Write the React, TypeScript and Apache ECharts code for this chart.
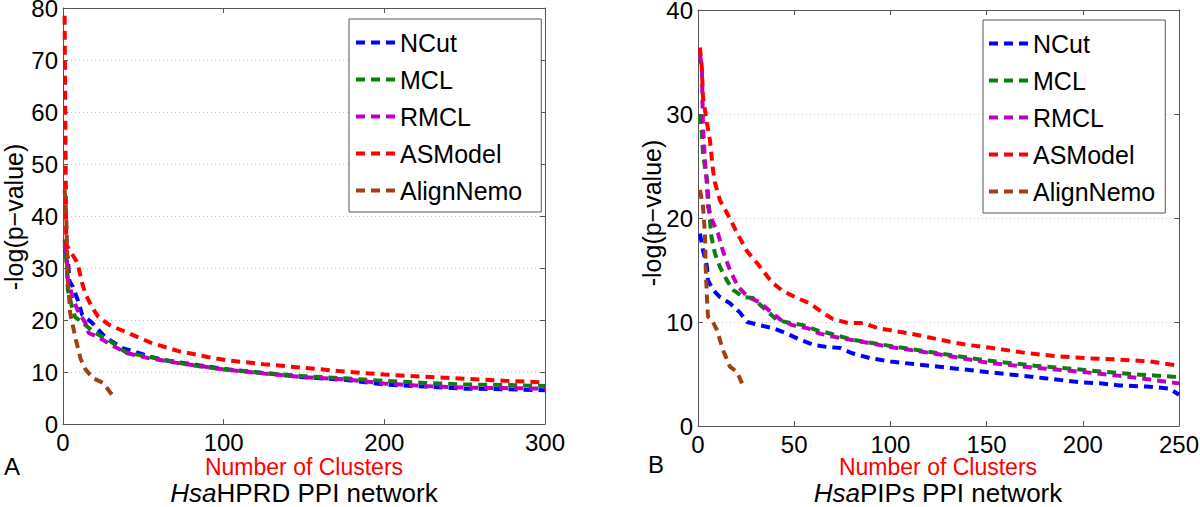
import React, { useEffect, useRef } from "react";
import * as echarts from "echarts";

// Left panel (HsaHPRD) data: [number of clusters, -log(p-value)]
const hprdNCut = [[1,33.5],[3,32],[4,27.5],[6,26.5],[9,24],[12,21],[18,19.5],[26,16.8],[37,14.6],[55,12.9],[63,12.3],[80,11.5],[100,10.6],[125,9.8],[150,9.0],[175,8.5],[200,7.6],[225,7.2],[250,6.8],[275,6.7],[300,6.5]];
const hprdMCL = [[1,35.5],[2.5,29.6],[3,25.8],[5.6,22.5],[7.5,20.6],[14,19],[20,17.5],[28,16.2],[39,13.8],[47,13.3],[60,12.5],[80,11.3],[100,10.5],[125,9.8],[150,9.2],[175,8.8],[200,8.3],[225,7.9],[250,7.6],[275,7.5],[300,7.3]];
const hprdRMCL = [[1,34.4],[2.5,31.5],[3,27.7],[6,24.4],[9,21.9],[14,19.4],[16,17.5],[22,16.7],[30,15.2],[40,13.6],[53,12.7],[70,11.8],[100,10.5],[125,9.7],[150,9.0],[175,8.6],[200,7.8],[225,7.3],[250,7.0],[275,6.9],[300,6.8]];
const hprdASModel = [[1,78.5],[2,34.5],[4,33.5],[6,32.5],[9,31],[12,27],[14,25],[18,22.5],[22,20.6],[29,19],[39,17.7],[55,15.6],[72,14],[90,12.9],[101,12.3],[125,11.5],[150,10.8],[175,10.1],[200,9.5],[225,9.1],[250,8.7],[275,8.3],[300,8.0]];
const hprdAlignNemo = [[1,45],[2,40.5],[2.5,34],[3,27.7],[4.5,21.3],[8,16.2],[11,12.5],[14,10.5],[18.7,8.8],[25,7.9],[32,5]];

// Right panel (HsaPIPs) data
const pipsNCut = [[1,18.5],[2.6,16.9],[4.7,15.3],[5.2,14],[7.8,13.1],[11.4,12.4],[16.6,11.8],[21.8,10.9],[25.5,10],[32,9.7],[39,9.4],[46,8.9],[53,8.3],[60,7.8],[67,7.6],[74,7.5],[80,7.0],[90,6.5],[100,6.2],[120,5.8],[140,5.4],[160,5.0],[180,4.6],[198.5,4.2],[209,4.1],[219,3.9],[233,3.8],[245,3.6],[250,3.0]];
const pipsMCL = [[1,29.9],[2,28.2],[2.6,26.2],[3.6,24.9],[4.7,23.7],[5.2,22.4],[6.2,19.8],[7,18.2],[8.8,16.6],[11.4,15.3],[15,14],[18.2,13.1],[23.4,12.4],[28.6,12.3],[33.8,11.4],[41,10.2],[48,9.9],[54.6,9.7],[62,9.2],[68.6,8.9],[80,8.3],[100,7.7],[125,7.0],[150,6.3],[175,5.8],[200,5.4],[225,5.0],[250,4.7]];
const pipsRMCL = [[1,35.7],[2,34.5],[2.3,31.6],[2.6,28.8],[3.6,25.6],[4.7,23],[5.2,21.1],[7.3,19.8],[10.4,18.5],[13,16.8],[16.6,15],[20.8,13.4],[26,12.4],[32,11.9],[37,11.1],[43,10.2],[49,9.7],[57,9.4],[63,8.9],[70,8.6],[85,8.1],[100,7.6],[125,6.9],[150,6.1],[175,5.6],[200,5.2],[225,4.7],[250,4.1]];
const pipsASModel = [[1,36.4],[2,34.5],[2.6,31.6],[4.7,29.1],[6.2,27.5],[7.8,24.6],[8.8,23.4],[11.4,21.7],[15,20.5],[20.5,18.5],[25.5,16.8],[31,15.6],[38.5,13.8],[44,13],[51.5,12.3],[58,11.8],[64,11],[70,10.3],[78,9.9],[86,9.9],[93.5,9.4],[110,8.9],[131,8.1],[140,7.8],[153,7.5],[171,7.0],[187,6.7],[204,6.5],[218,6.4],[235,6.2],[250,5.8]];
const pipsAlignNemo = [[1,22.7],[2.6,21.1],[3.6,18.5],[4,15.3],[4.7,12.1],[5.2,10.5],[7.3,10.2],[9.9,9.2],[13,7.3],[16.6,5.7],[20.3,5.2],[22.9,4.1]];

const methodNames = ["NCut", "MCL", "RMCL", "ASModel", "AlignNemo"];
const methodColors = ["#0000ff", "#0b800b", "#bf00bf", "#ff0000", "#a23f16"];
const leftSeriesData = [hprdNCut, hprdMCL, hprdRMCL, hprdASModel, hprdAlignNemo];
const rightSeriesData = [pipsNCut, pipsMCL, pipsRMCL, pipsASModel, pipsAlignNemo];

const leftXTicks = { min: 0, max: 300, interval: 100 };
const leftYTicks = { min: 0, max: 80, interval: 10 };
const rightXTicks = { min: 0, max: 250, interval: 50 };
const rightYTicks = { min: 0, max: 40, interval: 10 };

const FONT = "Liberation Sans, Arial, Helvetica, sans-serif";
const AXIS_COLOR = "#555555";
const DASH_ICON = "path://M0,0h9v4h-9z M15,0h9v4h-9z M30,0h9v4h-9z";

function mainX(gridIndex: number, t: any) {
  return {
    type: "value", gridIndex, min: t.min, max: t.max, interval: t.interval,
    position: "bottom",
    axisLine: { show: true, onZero: false, lineStyle: { color: AXIS_COLOR, width: 1 } },
    axisTick: { show: true, inside: true, length: 5, lineStyle: { color: AXIS_COLOR } },
    axisLabel: { show: true, color: "#000", fontSize: 24, fontFamily: FONT, margin: 9, lineHeight: 18 },
    splitLine: { show: false },
  };
}
function topX(gridIndex: number, t: any) {
  return {
    type: "value", gridIndex, min: t.min, max: t.max, interval: t.interval,
    position: "top",
    axisLine: { show: true, onZero: false, lineStyle: { color: AXIS_COLOR, width: 1 } },
    axisTick: { show: true, inside: true, length: 5, lineStyle: { color: AXIS_COLOR } },
    axisLabel: { show: false },
    splitLine: { show: false },
  };
}
function mainY(gridIndex: number, t: any) {
  return {
    type: "value", gridIndex, min: t.min, max: t.max, interval: t.interval,
    position: "left",
    axisLine: { show: true, onZero: false, lineStyle: { color: AXIS_COLOR, width: 1 } },
    axisTick: { show: true, inside: true, length: 5, lineStyle: { color: AXIS_COLOR } },
    axisLabel: { show: true, color: "#000", fontSize: 24, fontFamily: FONT, margin: 5, lineHeight: 16 },
    splitLine: { show: true, lineStyle: { color: "#c4c4c4", width: 1, type: [1, 3] } },
  };
}
function rightY(gridIndex: number, t: any) {
  return {
    type: "value", gridIndex, min: t.min, max: t.max, interval: t.interval,
    position: "right",
    axisLine: { show: true, onZero: false, lineStyle: { color: AXIS_COLOR, width: 1 } },
    axisTick: { show: true, inside: true, length: 5, lineStyle: { color: AXIS_COLOR } },
    axisLabel: { show: false },
    splitLine: { show: false },
  };
}

function makeSeries(data: number[][][], xAxisIndex: number, yAxisIndex: number) {
  return data.map((d, i) => ({
    name: methodNames[i],
    type: "line",
    xAxisIndex, yAxisIndex,
    data: d,
    showSymbol: false,
    symbol: "none",
    color: methodColors[i],
    lineStyle: { color: methodColors[i], width: 4, type: [9, 6] },
    z: 3,
  }));
}

function legend(left: number, top: number, padding: number[]) {
  return {
    show: true,
    orient: "vertical",
    left, top,
    data: methodNames.map((n) => ({ name: n, icon: DASH_ICON })),
    padding,
    itemWidth: 39,
    itemHeight: 4,
    itemGap: 12,
    borderColor: AXIS_COLOR,
    borderWidth: 1,
    backgroundColor: "#ffffff",
    selectedMode: false,
    textStyle: { fontSize: 25, fontFamily: FONT, color: "#000", lineHeight: 24, height: 24 },
  };
}

export default function App() {
  const ref = useRef<HTMLDivElement>(null);
  useEffect(() => {
    if (!ref.current) return;
    const chart = echarts.init(ref.current, null, { renderer: "svg" });
    const option: any = {
      animation: false,
      backgroundColor: "#ffffff",
      grid: [
        { left: 63, right: 655, top: 8, bottom: 83, containLabel: false, outerBoundsMode: "none" },
        { left: 698, right: 21, top: 10, bottom: 81, containLabel: false, outerBoundsMode: "none" },
      ],
      xAxis: [mainX(0, leftXTicks), topX(0, leftXTicks), mainX(1, rightXTicks), topX(1, rightXTicks)],
      yAxis: [mainY(0, leftYTicks), rightY(0, leftYTicks), mainY(1, rightYTicks), rightY(1, rightYTicks)],
      legend: [legend(349, 19, [11, 19, 9, 7]), legend(983, 20, [11, 10, 9, 6])],
      series: [...makeSeries(leftSeriesData, 0, 0), ...makeSeries(rightSeriesData, 2, 2)],
      graphic: [
        { type: "text", x: 14, y: 217, rotation: Math.PI / 2, style: { text: "-log(p\u2212value)", fontSize: 25, fontFamily: FONT, fill: "#000", align: "center", verticalAlign: "middle" } },
        { type: "text", x: 652, y: 213, rotation: Math.PI / 2, style: { text: "-log(p\u2212value)", fontSize: 25, fontFamily: FONT, fill: "#000", align: "center", verticalAlign: "middle" } },
        { type: "text", x: 12, y: 466, style: { text: "A", fontSize: 24, fontFamily: FONT, fill: "#000", align: "center", verticalAlign: "middle" } },
        { type: "text", x: 656, y: 464, style: { text: "B", fontSize: 24, fontFamily: FONT, fill: "#000", align: "center", verticalAlign: "middle" } },
        { type: "text", x: 304, y: 467, style: { text: "Number of Clusters", fontSize: 23, lineHeight: 18, fontFamily: FONT, fill: "#ff0000", align: "center", verticalAlign: "middle" } },
        { type: "text", x: 938, y: 467, style: { text: "Number of Clusters", fontSize: 23, lineHeight: 18, fontFamily: FONT, fill: "#ff0000", align: "center", verticalAlign: "middle" } },
        { type: "text", x: 304, y: 493, style: { text: "{i|Hsa}HPRD PPI network", fontSize: 26, fontFamily: FONT, fill: "#000", align: "center", verticalAlign: "middle", rich: { i: { fontStyle: "italic", fontSize: 26, fontFamily: FONT, fill: "#000" } } } },
        { type: "text", x: 938, y: 493, style: { text: "{i|Hsa}PIPs PPI network", fontSize: 26, fontFamily: FONT, fill: "#000", align: "center", verticalAlign: "middle", rich: { i: { fontStyle: "italic", fontSize: 26, fontFamily: FONT, fill: "#000" } } } },
      ],
    };
    chart.setOption(option);
    return () => chart.dispose();
  }, []);
  return <div ref={ref} style={{ position: "fixed", left: 0, top: 0, width: 1200, height: 507 }} />;
}
